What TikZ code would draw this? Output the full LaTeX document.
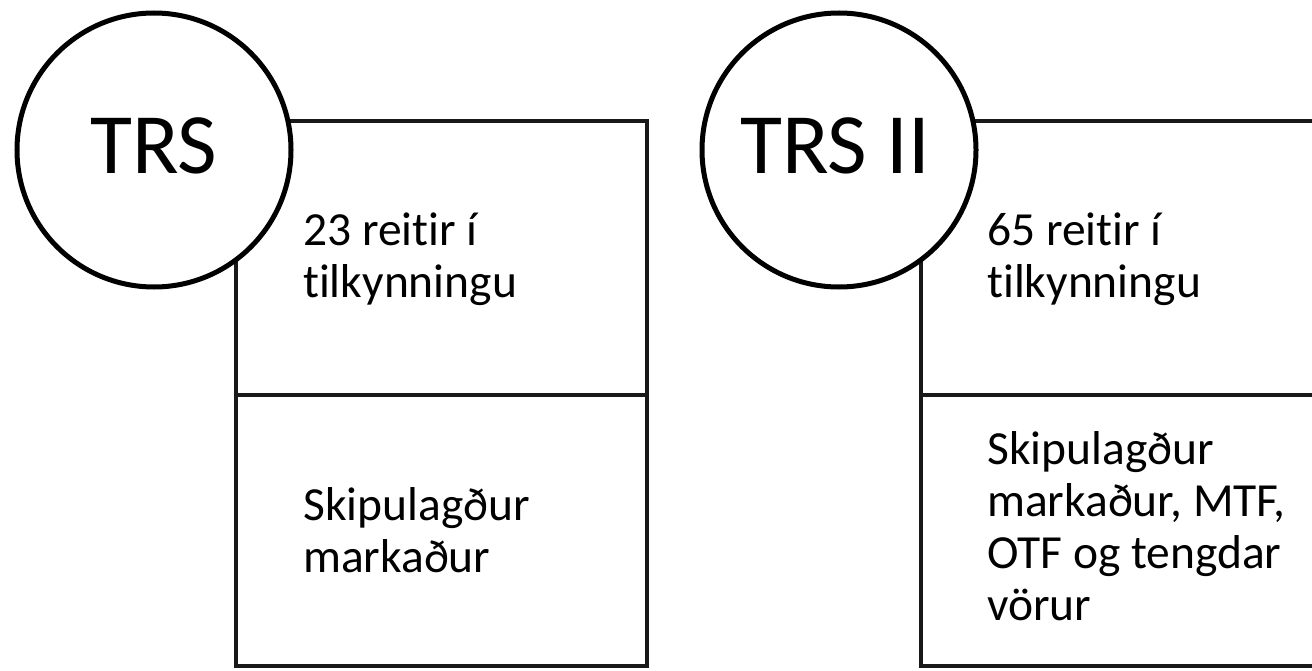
\documentclass[tikz,border=0pt]{standalone}
\usepackage{fontspec}
\setmainfont{Carlito}[Ligatures=NoCommon]
\begin{document}
\begin{tikzpicture}[x=1pt,y=-1pt,
  boxpart/.style={draw=black!90,line width=4pt,minimum width=#1,rectangle,inner sep=0pt},
  ring/.style={draw=black,fill=white,circle,line width=5pt,minimum size=274pt,inner sep=0pt,
    font=\fontsize{86}{100}\selectfont,text depth=9pt},
  body/.style={font=\fontsize{47.5}{52}\selectfont,align=left,anchor=base west,inner sep=0pt}]
\useasboundingbox (0,0) rectangle (1312,671);
\clip (0,0) rectangle (1312,671);
% left boxes
\node[boxpart=411pt,minimum height=274pt] (lt) at (441.5,258) {};
\node[boxpart=411pt,minimum height=271pt] (lb) at (441.5,530.5) {};
% right boxes
\node[boxpart=420pt,minimum height=274pt] (rt) at (1131,258) {};
\node[boxpart=420pt,minimum height=271pt] (rb) at (1131,530.5) {};
% circles
\node[ring] (c1) at (154,150) {TRS};
\node[ring] (c2) at (839,150) {\hspace*{-8pt}TRS II};
% texts (anchored at the baseline of the last line)
\node[body] (t1) at (303,297) {23 reitir í\\tilkynningu};
\node[body] (t2) at (303,572) {Skipulagður\\markaður};
\node[body] (t3) at (987,297) {65 reitir í\\tilkynningu};
\node[body] (t4) at (987,620) {Skipulagður\\markaður, MTF,\\OTF og tengdar\\vörur};
\end{tikzpicture}
\end{document}
